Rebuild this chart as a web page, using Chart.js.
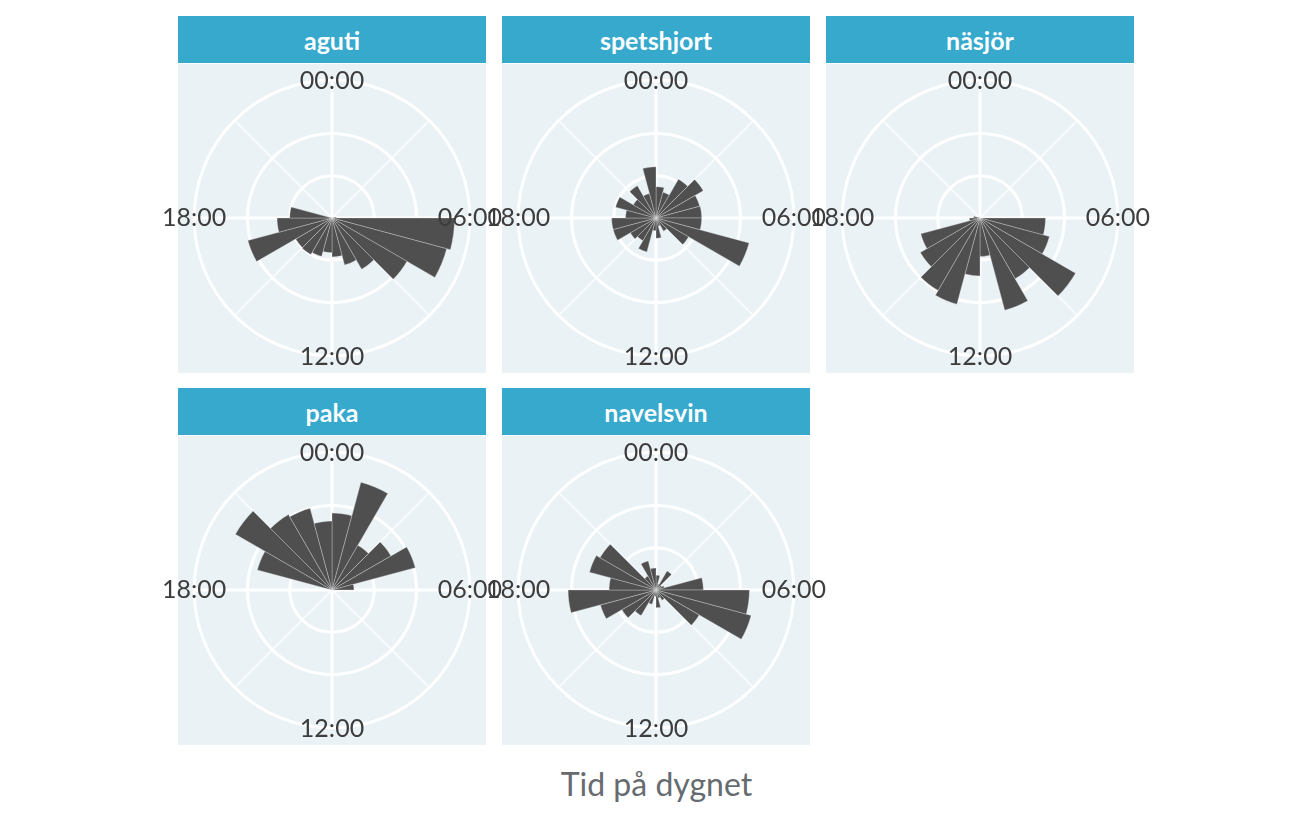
<!DOCTYPE html>
<html lang="sv">
<head>
<meta charset="utf-8">
<title>Tid på dygnet</title>
<script src="https://cdn.jsdelivr.net/npm/chart.js@4.4.1/dist/chart.umd.min.js"></script>
<style>
  html, body { margin: 0; padding: 0; background: #fff; }
  body { width: 1306px; height: 816px; position: relative; overflow: hidden; font-family: Lato, "Open Sans", sans-serif; }
  .strip { position: absolute; width: 308px; height: 47px; background: #36a9cc; color: #fbfdfe; font-weight: bold; font-size: 25px; line-height: 49px; text-align: center; }
  .panel { position: absolute; width: 308px; height: 309px; background: #eaf2f6; }
  canvas { position: absolute; }
  #xtitle { position: absolute; left: 178px; width: 957px; top: 765px; text-align: center; font-size: 32px; line-height: 38px; color: #666b70; }
</style>
</head>
<body>
<div id="xtitle">Tid på dygnet</div>
<script>
// timme på dygnet (24 klasser à 1 h)
const hourLabels = ["00:00", "01:00", "02:00", "03:00", "04:00", "05:00",
                    "06:00", "07:00", "08:00", "09:00", "10:00", "11:00",
                    "12:00", "13:00", "14:00", "15:00", "16:00", "17:00",
                    "18:00", "19:00", "20:00", "21:00", "22:00", "23:00"];
const species = ["aguti", "spetshjort", "näsjör", "paka", "navelsvin"];

// antal observationer per timme
const aguti      = [0, 0, 0, 0, 0, 1.0, 29.0, 28.1, 20.5, 14.0, 11.5, 9.2, 8.2, 9.4, 10.0, 9.9, 20.6, 13.0, 10.0, 0, 0, 0, 0, 0];
const spetshjort = [7.4, 6.3, 10.6, 12.9, 10.7, 10.8, 10.8, 22.8, 8.9, 3.6, 2.0, 4.8, 3.0, 8.3, 6.2, 7.0, 10.5, 10.5, 7.2, 9.9, 6.2, 8.8, 6.0, 12.1];
const nasjor     = [0, 0, 0, 0, 0, 0, 15.5, 17.0, 26.1, 16.6, 22.6, 9.1, 13.7, 21.1, 19.8, 16.3, 14.5, 2.5, 1.5, 0, 0, 0, 0, 0];
const paka       = [18.2, 26.4, 12.2, 16.1, 20.4, 5.2, 0, 0, 0, 0, 0, 0, 0, 0, 0, 0, 0, 0, 0, 18.3, 26.4, 20.6, 20.0, 16.3];
const navelsvin  = [3.5, 1.5, 5.2, 1.5, 2.0, 11.2, 22.1, 23.3, 11.8, 2.8, 2.0, 4.2, 1.5, 3.5, 7.0, 9.3, 13.6, 20.8, 11.1, 16.3, 15.3, 3.8, 7.1, 5.2];
const series = [aguti, spetshjort, nasjor, paka, navelsvin];

// cirklar i rutnätet
const ringTicks = [0, 10, 20];

// gemensam skala för alla paneler (som facet_wrap med fasta skalor)
const dataMax = Math.max(...series.flat());
const rMax = dataMax * 0.45 / 0.4;

// layout
const panelX = [178, 502, 826];
const rowY = [16, 388];
const R = 137.5;      // ytterradie i px
const PAD = 8;
const labelFont = { family: "Lato", size: 25, lineHeight: 1.2 };

const mctx = document.createElement("canvas").getContext("2d");
mctx.font = labelFont.size + "px Lato";
const labelW = mctx.measureText("06:00").width;
const labelH = labelFont.size * labelFont.lineHeight;
const inner = Math.round(R + labelW / 2);
const S = 2 * inner + 2 * PAD;

function labelPadding(c) {
  if (c.index === 0) return -labelH / 2 - 1;
  if (c.index === 12) return -labelH / 2 + 1;
  if (c.index % 6 === 0) return -labelW / 2;
  return -80;
}

function pointLabels(color) {
  return {
    display: true,
    color: color,
    font: labelFont,
    padding: labelPadding,
    callback: (label, i) => (i % 6 === 0 ? label : "")
  };
}

species.forEach((name, k) => {
  const col = k % 3, row = Math.floor(k / 3);
  const x0 = panelX[col], y0 = rowY[row];

  const strip = document.createElement("div");
  strip.className = "strip";
  strip.style.left = x0 + "px";
  strip.style.top = y0 + "px";
  strip.textContent = name;
  document.body.appendChild(strip);

  const panel = document.createElement("div");
  panel.className = "panel";
  panel.style.left = x0 + "px";
  panel.style.top = (y0 + 48) + "px";
  document.body.appendChild(panel);

  const cx = x0 + 154, cy = y0 + 48 + 155;
  const cv = document.createElement("canvas");
  cv.width = S;
  cv.height = S;
  cv.style.left = (cx - PAD - inner) + "px";
  cv.style.top = (cy - PAD - inner) + "px";
  document.body.appendChild(cv);

  new Chart(cv, {
    type: "polarArea",
    data: {
      labels: hourLabels,
      datasets: [{
        label: name,
        data: series[k],
        rAxisID: "r",
        backgroundColor: "#4f4f4f",
        borderColor: "rgba(230,230,230,0.55)",
        borderWidth: c => (c.raw > 0 ? 0.6 : 0)
      }]
    },
    options: {
      responsive: false,
      animation: false,
      events: [],
      layout: { padding: PAD },
      plugins: { legend: { display: false }, tooltip: { enabled: false } },
      scales: {
        r: {
          type: "radialLinear",
          startAngle: 0,
          min: 0,
          max: rMax,
          ticks: { display: false },
          afterBuildTicks: s => {
            s.ticks = ringTicks.map(v => ({ value: v })).concat([{ value: rMax }]);
          },
          grid: { display: true, circular: true, color: "#ffffff", lineWidth: 3 },
          angleLines: {
            display: true,
            color: "#ffffff",
            lineWidth: c => (c.index % 6 === 0 ? 3 : (c.index % 3 === 0 ? 1.2 : 0))
          },
          pointLabels: pointLabels("rgba(0,0,0,0)")
        },
        rLabels: {
          type: "radialLinear",
          axis: "r",
          startAngle: 0,
          min: 0,
          max: rMax,
          ticks: { display: false },
          grid: { display: false, z: 1 },
          angleLines: { display: false },
          pointLabels: pointLabels("#3d3d3d")
        }
      }
    }
  });
});
</script>
</body>
</html>
